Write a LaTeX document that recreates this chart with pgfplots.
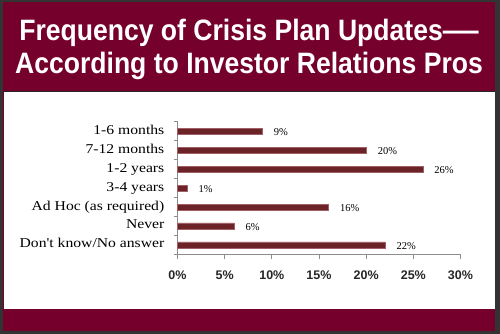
\documentclass[border=0pt]{standalone}
\usepackage{pgfplots}
\pgfplotsset{compat=1.18}
\usepackage{fontspec}
\setmainfont{Liberation Serif}
\newfontfamily\titlefont{Liberation Sans}[FakeStretch=0.9]
\newfontfamily\tickfont{Liberation Sans}
\newfontfamily\catfont{Liberation Serif}[FakeStretch=1.16]
\definecolor{maroon}{RGB}{118,0,44}
\definecolor{barred}{RGB}{107,35,39}
\definecolor{baredge}{RGB}{160,95,100}
\definecolor{axgray}{RGB}{140,140,140}
\begin{document}
\begin{tikzpicture}[x=1pt,y=1pt]
\path[use as bounding box] (0,0) rectangle (500,334);
\fill[black!80] (0,0) rectangle (500,334);
\fill[maroon] (3,3) rectangle (495,332);
\fill[white] (3.5,24.7) rectangle (494.5,242.5);
\draw[black!85, line width=0.6] (3.5,242.8) -- (494.5,242.8);
\node[anchor=base, text=white, inner sep=0pt, font=\titlefont\bfseries\fontsize{29.5}{29.5}\selectfont] at (249,293.3) {Frequency of Crisis Plan Updates\scalebox{1.35}[1]{—}};
\node[anchor=base, text=white, inner sep=0pt, font=\titlefont\bfseries\fontsize{29.5}{29.5}\selectfont] at (249,260) {According to Investor Relations Pros};
\begin{axis}[
  at={(177.5pt,79.5pt)}, anchor=south west,
  scale only axis, width=283pt, height=133pt,
  xbar, bar width=6pt,
  xmin=0, xmax=30, ymin=-0.5, ymax=6.5,
  axis x line*=bottom, axis y line*=left,
  axis line style={axgray, line width=1pt, -},
  xtick={0,5,...,30},
  xticklabel={\pgfmathprintnumber{\tick}\%},
  /pgf/number format/assume math mode=true,
  xticklabel style={font=\tickfont\bfseries\fontsize{12.5}{12.5}\selectfont, text=black!85, yshift=-8pt},
  x tick style={axgray, line width=1pt},
  tick align=outside,
  major tick length=5pt,
  minor tick length=4pt,
  ytick={0,...,6},
  yticklabels={Don't know/No answer, Never, Ad Hoc (as required), 3-4 years, 1-2 years, 7-12 months, 1-6 months},
  minor ytick={-0.5,0.5,...,6.5},
  major y tick style={draw=none},
  minor y tick style={axgray, line width=1pt},
  yticklabel style={font=\catfont\fontsize{13.5}{13.5}\selectfont, anchor=east, inner sep=0pt, xshift=-8pt, text height=9pt, text depth=3pt},
  point meta=x,
  nodes near coords={\pgfmathprintnumber{\pgfplotspointmeta}\%},
  nodes near coords style={font=\fontsize{10.5}{10.5}\selectfont, anchor=west, xshift=8pt, yshift=-1pt, text=black},
  clip=false,
]
\addplot[draw=baredge, fill=barred, line width=0.5pt] coordinates {(22,0) (6,1) (16,2) (1,3) (26,4) (20,5) (9,6)};
\end{axis}
\end{tikzpicture}
\end{document}
